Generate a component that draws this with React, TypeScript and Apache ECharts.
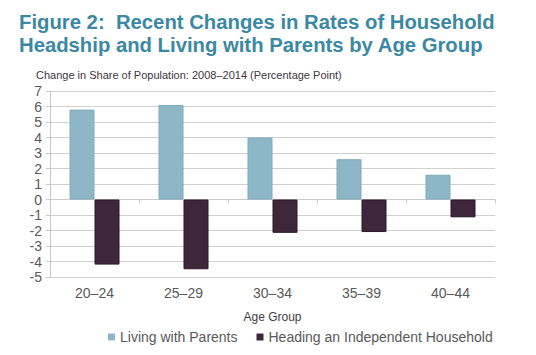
import React, { useEffect, useRef } from "react";
import * as echarts from "echarts";

const categories = ["20–24", "25–29", "30–34", "35–39", "40–44"];
const livingWithParents = [5.8, 6.1, 4.0, 2.6, 1.6];
const headingHousehold = [-4.2, -4.5, -2.15, -2.1, -1.15];
const seriesNames = ["Living with Parents", "Heading an Independent Household"];

const FONT = "'Liberation Sans', Arial, sans-serif";

export default function App() {
  const ref = useRef<HTMLDivElement>(null);
  useEffect(() => {
    const chart = echarts.init(ref.current!, null, { renderer: "svg" });
    chart.setOption({
      animation: false,
      backgroundColor: "#ffffff",
      textStyle: { fontFamily: FONT },
      title: [
        {
          text: "Figure 2:  Recent Changes in Rates of Household\nHeadship and Living with Parents by Age Group",
          left: 14,
          top: 5,
          textStyle: { fontFamily: FONT, fontSize: 20.3, fontWeight: "bold", color: "#3a88a4", lineHeight: 23.5 },
        },
        {
          text: "Change in Share of Population: 2008–2014 (Percentage Point)",
          left: 31,
          top: 64,
          textStyle: { fontFamily: FONT, fontSize: 11, fontWeight: "normal", color: "#3f3540" },
        },
      ],
      legend: {
        left: 108,
        top: 330,
        padding: 0,
        itemWidth: 7,
        itemHeight: 7,
        itemGap: 19,
        icon: "rect",
        itemStyle: { borderWidth: 0 },
        textStyle: { fontFamily: FONT, fontSize: 14, color: "#595959" },
        data: seriesNames,
      },
      grid: { left: 50, right: 41, top: 91, bottom: 78 },
      xAxis: [
        {
          type: "category",
          data: categories,
          position: "bottom",
          axisLine: { show: false, onZero: false },
          axisTick: { show: false },
          axisLabel: { fontFamily: FONT, fontSize: 14, color: "#595959", margin: 9 },
          name: "Age Group",
          nameLocation: "middle",
          nameGap: 34,
          nameTextStyle: { fontFamily: FONT, fontSize: 12, color: "#404040" },
        },
        {
          type: "category",
          data: categories,
          position: "bottom",
          axisLine: { show: true, onZero: true, lineStyle: { color: "#c8c8c8", width: 1 } },
          axisTick: { show: true, length: 4, lineStyle: { color: "#c8c8c8" } },
          axisLabel: { show: false },
        },
      ],
      yAxis: {
        type: "value",
        min: -5,
        max: 7,
        interval: 1,
        axisLine: { show: true, lineStyle: { color: "#c8c8c8" } },
        axisTick: { show: true, length: 4, lineStyle: { color: "#c8c8c8" } },
        axisLabel: { fontFamily: FONT, fontSize: 14, color: "#595959", margin: 8 },
        splitLine: { show: true, lineStyle: { color: "#d0d0d0", width: 1 } },
      },
      series: [
        {
          name: seriesNames[0],
          type: "bar",
          data: livingWithParents,
          barWidth: 25,
          barGap: "0%",
          itemStyle: { color: "#8db6c6", borderColor: "#7eaabb", borderWidth: 1 },
        },
        {
          name: seriesNames[1],
          type: "bar",
          data: headingHousehold,
          barWidth: 25,
          barGap: "0%",
          itemStyle: { color: "#3e273b", borderColor: "#2a1828", borderWidth: 1 },
        },
      ],
    });
    return () => chart.dispose();
  }, []);
  return <div ref={ref} style={{ width: 536, height: 355, position: "absolute", left: 0, top: 0 }} />;
}
